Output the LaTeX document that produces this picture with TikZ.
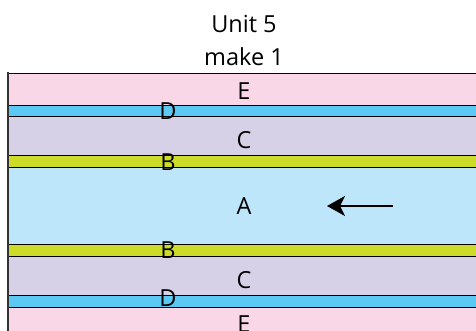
\documentclass[tikz,border=0pt]{standalone}
\usepackage{fontspec}
\setmainfont{Open Sans}
\usetikzlibrary{arrows.meta}
\definecolor{pinkE}{HTML}{FAD7E7}
\definecolor{blueD}{HTML}{5CC9F5}
\definecolor{lavC}{HTML}{D7D1E8}
\definecolor{yelB}{HTML}{CCDC28}
\definecolor{blueA}{HTML}{BDE6FA}
\tikzset{
  band/.style={draw=black, line width=0.9pt},
  lbl/.style={font=\fontsize{23.5}{26}\selectfont, inner sep=0pt, anchor=center},
  ttl/.style={font=\fontsize{23.5}{26}\selectfont, inner sep=0pt, anchor=base},
}
\begin{document}
\begin{tikzpicture}[x=1pt,y=-1pt]
\useasboundingbox (0,0) rectangle (476,331);
\begin{scope}
\clip (0,0) rectangle (476,331);
\fill[white] (0,0) rectangle (476,331);
\filldraw[band, fill=pinkE] (8,73) rectangle (480,105);
\filldraw[band, fill=blueD] (8,105) rectangle (480,116);
\filldraw[band, fill=lavC] (8,116) rectangle (480,155);
\filldraw[band, fill=yelB] (8,155) rectangle (480,167);
\filldraw[band, fill=blueA] (8,167) rectangle (480,244);
\filldraw[band, fill=yelB] (8,244) rectangle (480,256);
\filldraw[band, fill=lavC] (8,256) rectangle (480,295);
\filldraw[band, fill=blueD] (8,295) rectangle (480,307);
\filldraw[band, fill=pinkE] (8,307) rectangle (480,340);
\draw[line width=1.6pt, draw=black!80] (8,72.5) -- (8,335);
\node[ttl] (t1) at (244,33) {Unit 5};
\node[ttl] (t2) at (244,66) {make 1};
\node[lbl] (e1) at (244,91) {E};
\node[lbl] (d1) at (168,111) {D};
\node[lbl] (c1) at (244,140.5) {C};
\node[lbl] (b1) at (168,162.5) {B};
\node[lbl] (a) at (244,206) {A};
\node[lbl] (b2) at (168,250.5) {B};
\node[lbl] (c2) at (244,280) {C};
\node[lbl] (d2) at (168,298.5) {D};
\node[lbl] (e2) at (244,324) {E};
\coordinate (ar1) at (393,206);
\coordinate (ar2) at (327,206);
\draw[line width=2pt, -{Stealth[length=18pt,width=20pt,inset=5pt]}] (ar1) -- (ar2);
\end{scope}
\end{tikzpicture}
\end{document}
